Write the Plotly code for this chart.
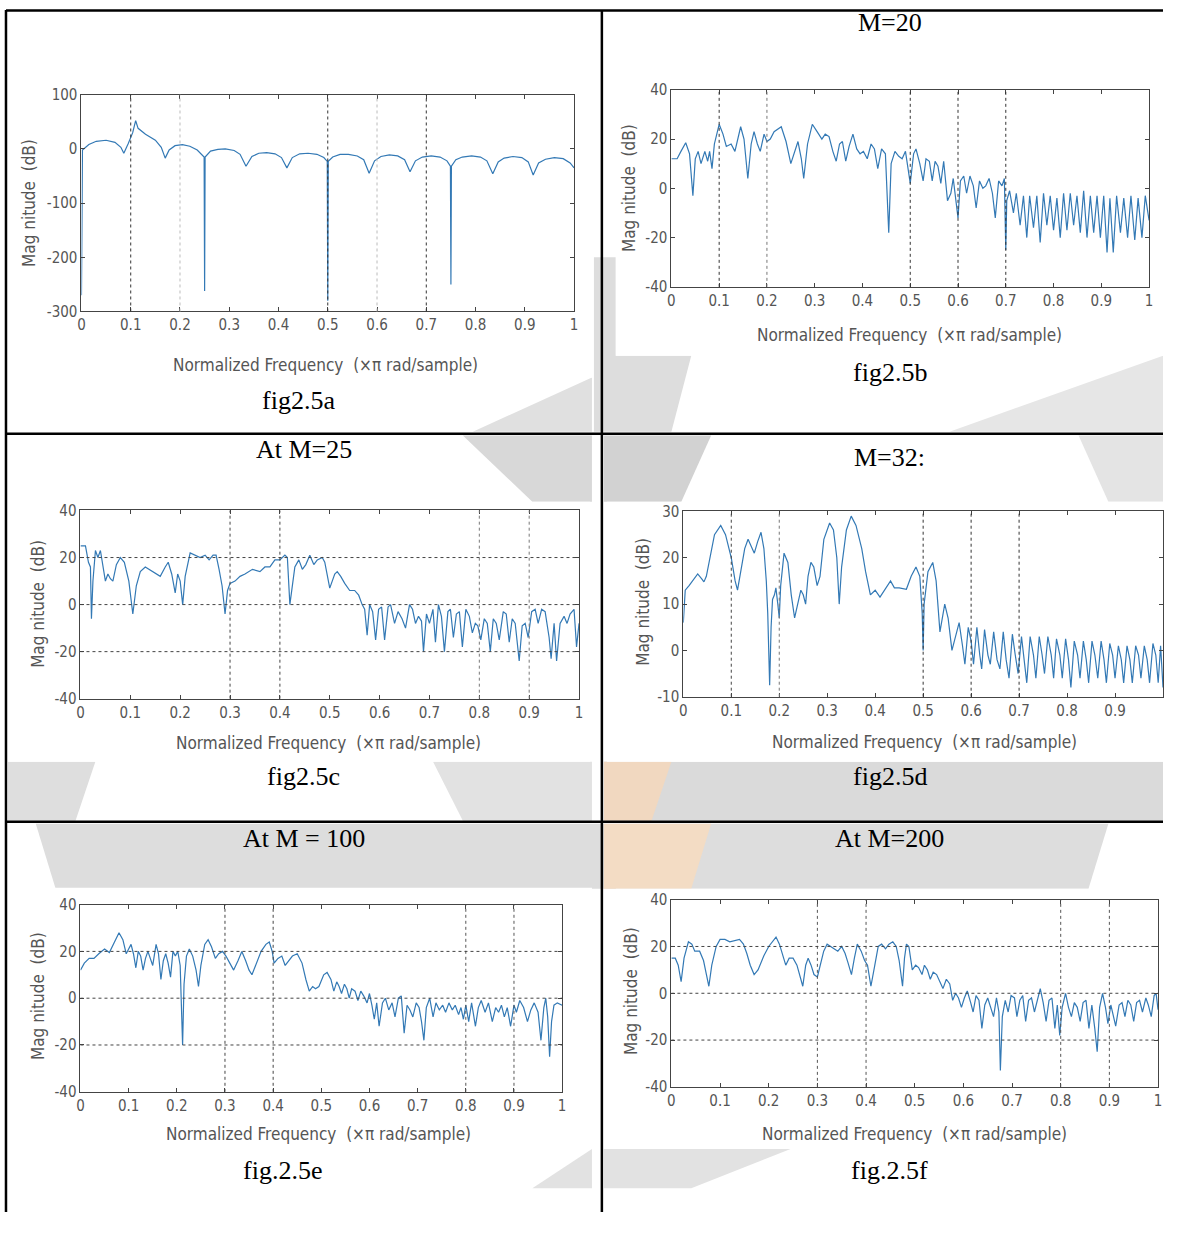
import plotly.graph_objects as go

W, H = 1183, 1237          # target page size
OFF = 8                     # default page margin around the plot div
FW, FH = W - 2 * OFF, H - 2 * OFF

# ---------------- data ----------------
freq_a = [0, 0.002, 0.015, 0.03, 0.05, 0.068, 0.08, 0.086, 0.095, 0.104, 0.11, 0.115, 0.13, 0.15, 0.162, 0.17,
          0.178, 0.19, 0.205, 0.22, 0.235, 0.249, 0.25, 0.251, 0.262, 0.277, 0.292, 0.31, 0.322, 0.334, 0.346,
          0.36, 0.376, 0.393, 0.406, 0.417, 0.428, 0.443, 0.46, 0.478, 0.492, 0.499, 0.5, 0.501, 0.51, 0.525,
          0.542, 0.56, 0.573, 0.584, 0.595, 0.608, 0.625, 0.642, 0.656, 0.667, 0.678, 0.692, 0.71, 0.728, 0.742,
          0.749, 0.75, 0.751, 0.76, 0.773, 0.792, 0.81, 0.823, 0.835, 0.846, 0.858, 0.876, 0.894, 0.907, 0.917,
          0.928, 0.942, 0.96, 0.978, 0.992, 1.0]
mag_a = [-270, -2, 8, 14, 16, 12, 3, -8, 10, 30, 52, 38, 27, 16, 3, -17,
         -2, 6, 8, 5, -2, -15, -262, -15, -4, -1, 0, -3, -10, -32, -14,
         -8, -7, -9, -16, -35, -16, -9, -8, -10, -16, -23, -280, -23, -15, -10,
         -10, -13, -20, -45, -22, -14, -11, -13, -20, -42, -22, -15, -13, -15, -22,
         -32, -250, -32, -20, -15, -13, -15, -22, -46, -24, -17, -14, -16, -24, -48,
         -26, -19, -16, -18, -26, -35]

freq_b = [0, 0.012, 0.02, 0.03, 0.038, 0.045, 0.05, 0.056, 0.062, 0.07, 0.076, 0.08, 0.085, 0.09, 0.1, 0.108,
          0.115, 0.125, 0.133, 0.145, 0.152, 0.16, 0.167, 0.173, 0.18, 0.186, 0.194, 0.2, 0.207, 0.215, 0.23,
          0.24, 0.25, 0.258, 0.265, 0.272, 0.277, 0.285, 0.295, 0.305, 0.315, 0.322, 0.33, 0.338, 0.345, 0.352,
          0.358, 0.365, 0.372, 0.38, 0.388, 0.395, 0.402, 0.41, 0.418, 0.425, 0.432, 0.44, 0.448, 0.455, 0.46,
          0.468, 0.476, 0.483, 0.49, 0.5, 0.507, 0.512, 0.52, 0.527, 0.533, 0.54, 0.546, 0.552, 0.558, 0.564,
          0.57, 0.578, 0.585, 0.59, 0.598, 0.6, 0.605, 0.612, 0.618, 0.625, 0.632, 0.638, 0.645, 0.652, 0.658,
          0.665, 0.672, 0.678, 0.685, 0.692, 0.697, 0.7, 0.702, 0.708, 0.716, 0.722, 0.73, 0.737, 0.744, 0.75,
          0.758, 0.765, 0.772, 0.779, 0.786, 0.793, 0.8, 0.807, 0.814, 0.821, 0.828, 0.835, 0.842, 0.849, 0.856,
          0.863, 0.87, 0.877, 0.884, 0.891, 0.898, 0.905, 0.912, 0.918, 0.925, 0.932, 0.94, 0.947, 0.955, 0.962,
          0.97, 0.977, 0.985, 0.992, 1.0]
mag_b = [12, 12, 15, 18.5, 14, -3, 12, 15, 10, 15, 11, 15, 8, 18, 26, 22,
         17, 18, 15, 25, 20, 4, 18, 23, 18, 15, 22, 19, 20, 23, 25,
         19, 10, 15, 19, 12, 4, 18, 26, 23, 20, 22, 21, 15, 11, 18,
         19, 11, 17, 22, 16, 14, 15, 12, 18, 16, 8, 16, 14, -18, 10,
         15, 13, 12, 15, 2, 14, 16, 10, 3, 12, 11, 3, 11, 9, 2,
         11, -5, -2, 4, -8, -12, 3, 5, -2, 5, 1, -8, 3, 0, 1,
         4, -2, -12, 3, 1, 4, -25, -5, -1, -10, -2, -15, -3, -20, -3,
         -16, -3, -22, -2, -15, -3, -17, -4, -20, -2, -17, -2, -15, -3, -18,
         -1, -20, -3, -18, -3, -20, -3, -26, -4, -26, -3, -18, -4, -20, -3,
         -21, -4, -20, -3, -13]

freq_c = [0, 0.01, 0.016, 0.02, 0.022, 0.025, 0.03, 0.035, 0.04, 0.045, 0.05, 0.055, 0.06, 0.065, 0.072, 0.08,
          0.088, 0.097, 0.105, 0.112, 0.12, 0.13, 0.145, 0.16, 0.17, 0.176, 0.183, 0.19, 0.195, 0.2, 0.205,
          0.21, 0.22, 0.23, 0.24, 0.25, 0.258, 0.266, 0.272, 0.278, 0.284, 0.29, 0.295, 0.3, 0.31, 0.32, 0.33,
          0.345, 0.36, 0.37, 0.38, 0.39, 0.4, 0.41, 0.415, 0.42, 0.43, 0.438, 0.445, 0.452, 0.46, 0.468, 0.475,
          0.485, 0.49, 0.5, 0.51, 0.515, 0.522, 0.53, 0.54, 0.55, 0.558, 0.565, 0.57, 0.575, 0.58, 0.586,
          0.592, 0.598, 0.604, 0.61, 0.617, 0.622, 0.63, 0.637, 0.645, 0.652, 0.66, 0.666, 0.672, 0.678, 0.684,
          0.688, 0.694, 0.7, 0.707, 0.712, 0.718, 0.724, 0.73, 0.737, 0.742, 0.748, 0.754, 0.76, 0.766, 0.773,
          0.78, 0.786, 0.792, 0.797, 0.803, 0.81, 0.816, 0.822, 0.828, 0.834, 0.84, 0.848, 0.854, 0.86, 0.866,
          0.872, 0.88, 0.886, 0.892, 0.898, 0.905, 0.912, 0.918, 0.925, 0.932, 0.94, 0.944, 0.95, 0.955, 0.962,
          0.97, 0.976, 0.982, 0.99, 0.995, 1.0]
mag_c = [25, 25, 18, 16, -6, 10, 23, 20, 23, 17, 10, 13, 11, 10, 17, 20,
         18, 10, -4, 8, 14, 16, 14, 12, 16, 18, 13, 5, 13, 10, 0,
         12, 22, 21, 20, 21, 19, 21, 21, 15, 8, -4, 6, 9, 10, 12, 13,
         15, 14, 16, 16, 19, 19, 21, 20, 0, 16, 19, 15, 17, 21, 17, 19,
         20, 18, 7, 13, 14, 12, 9, 6, 6, 4, 0, -2, -13, 0, -3,
         -15, -2, -1, -15, -1, 0, -8, -3, -6, -10, 0, -2, -8, -5, -7,
         -20, -4, -8, -2, -16, 0, -5, -20, -3, -2, -14, -4, -3, -18, -2,
         -5, -12, -8, -9, -15, -6, -8, -20, -6, -8, -15, -3, -4, -16, -6,
         -8, -24, -9, -8, -14, -3, -2, -8, -2, -3, -14, -23, -8, -24, -8,
         -5, -8, -4, -2, -18, -8]

freq_d = [0, 0.004, 0.012, 0.022, 0.03, 0.038, 0.043, 0.048, 0.055, 0.065, 0.078, 0.088, 0.1, 0.108, 0.113,
          0.12, 0.128, 0.135, 0.142, 0.148, 0.155, 0.162, 0.168, 0.173, 0.176, 0.18, 0.183, 0.186, 0.19, 0.193,
          0.197, 0.2, 0.203, 0.21, 0.218, 0.225, 0.232, 0.238, 0.245, 0.25, 0.255, 0.26, 0.266, 0.272, 0.279,
          0.285, 0.293, 0.305, 0.313, 0.32, 0.325, 0.33, 0.34, 0.35, 0.36, 0.372, 0.38, 0.39, 0.4, 0.41, 0.42,
          0.432, 0.44, 0.45, 0.465, 0.475, 0.485, 0.493, 0.498, 0.5, 0.502, 0.51, 0.52, 0.527, 0.535, 0.545,
          0.552, 0.56, 0.565, 0.575, 0.582, 0.587, 0.594, 0.6, 0.605, 0.612, 0.618, 0.622, 0.628, 0.635, 0.64,
          0.647, 0.654, 0.66, 0.667, 0.673, 0.679, 0.686, 0.692, 0.698, 0.705, 0.711, 0.716, 0.723, 0.73, 0.735,
          0.742, 0.748, 0.753, 0.76, 0.767, 0.772, 0.778, 0.785, 0.79, 0.797, 0.803, 0.808, 0.815, 0.822, 0.827,
          0.834, 0.84, 0.845, 0.852, 0.858, 0.864, 0.871, 0.877, 0.882, 0.889, 0.895, 0.9, 0.907, 0.913, 0.918,
          0.925, 0.931, 0.936, 0.943, 0.949, 0.954, 0.961, 0.967, 0.972, 0.979, 0.985, 0.99, 0.995, 1.0]
mag_d = [6, 13, 14, 15.5, 16.5, 15.5, 14.8, 16, 20, 25, 27, 25, 20, 15, 13,
         17, 22, 24, 22.5, 21, 23.5, 25.5, 22, 15, 8, -7.5, 5, 11, 12, 13.5,
         10, 7, 14, 21, 19, 12, 7, 10, 13, 12, 10, 16, 19, 18, 14,
         16, 24, 27.5, 26, 20, 10, 18, 26, 29, 27, 22, 17, 12, 13, 11.5, 13,
         15, 13.5, 13.5, 13.2, 16, 18, 16, 8, 0, 10, 17, 19, 15, 4, 10,
         7, 0, 2, 6, 1, -3, 5, 2, -3, 5, -1, -4, 4.5, -1, -3,
         4, -2, -4, 4, -2, -6, 3.5, -1, -5, 3, -2, -7, 3, -1, -6,
         3, -1, -5, 3, -1, -6, 2.5, -1, -6, 2.5, -2, -8, 2, -1, -6,
         2, -2, -7, 2, -1, -6, 2, -2, -7, 1.5, -1, -6, 1, -2, -7,
         1, -2, -7, 1, -1, -6, 1, -2, -7, 1.5, -1, -7, 1, -8]

freq_e = [0, 0.008, 0.018, 0.028, 0.038, 0.05, 0.06, 0.07, 0.08, 0.088, 0.095, 0.1, 0.105, 0.11, 0.115, 0.12,
          0.125, 0.13, 0.135, 0.14, 0.145, 0.15, 0.157, 0.162, 0.167, 0.172, 0.177, 0.182, 0.187, 0.192, 0.197,
          0.202, 0.207, 0.21, 0.212, 0.215, 0.22, 0.226, 0.233, 0.24, 0.245, 0.25, 0.258, 0.265, 0.272, 0.28,
          0.287, 0.295, 0.302, 0.31, 0.318, 0.327, 0.335, 0.343, 0.35, 0.356, 0.365, 0.375, 0.385, 0.392, 0.398,
          0.402, 0.41, 0.418, 0.425, 0.433, 0.44, 0.45, 0.46, 0.468, 0.475, 0.482, 0.488, 0.495, 0.505, 0.512,
          0.52, 0.526, 0.532, 0.537, 0.542, 0.548, 0.553, 0.558, 0.563, 0.57, 0.576, 0.582, 0.588, 0.595, 0.6,
          0.605, 0.61, 0.615, 0.62, 0.627, 0.633, 0.64, 0.647, 0.653, 0.66, 0.666, 0.672, 0.678, 0.684, 0.69,
          0.697, 0.703, 0.708, 0.713, 0.718, 0.725, 0.732, 0.738, 0.745, 0.752, 0.758, 0.765, 0.772, 0.778, 0.785,
          0.79, 0.795, 0.8, 0.806, 0.812, 0.82, 0.826, 0.832, 0.84, 0.847, 0.855, 0.862, 0.868, 0.874, 0.88,
          0.886, 0.893, 0.9, 0.905, 0.912, 0.92, 0.928, 0.935, 0.942, 0.95, 0.956, 0.962, 0.966, 0.97, 0.974,
          0.978, 0.983, 0.99, 1.0]
mag_e = [12, 15, 17, 17, 19, 21, 19.5, 24, 28, 25, 19, 21, 23, 19, 13, 20,
         18, 12, 17, 20, 17, 14, 23, 19, 8, 16, 19, 15, 9, 20, 18,
         20, 14, -6, -20, 6, 18, 21, 18, 12, 5, 14, 23, 25, 22, 17,
         19, 20, 18, 15, 12, 16, 20, 16, 12, 10, 15, 20, 23, 24, 20,
         15, 17, 18, 14, 16, 18, 19, 15, 8, 3, 5, 4, 5, 10, 11,
         8, 3, 7, 5, 2, 6, 4, 0, 4, 3, -1, 3, 1, -2, 2,
         -3, -9, -2, -12, -2, 0, -5, -2, -8, 0, 1, -15, -3, -5, -8,
         -2, -4, -10, -18, -4, 0, -8, -2, -5, -3, -6, -2, -5, -3, -7,
         -4, -9, -3, -10, -2, -12, -4, -1, -6, -2, -10, -4, -6, -3, -8,
         -4, -12, -3, -6, -1, -4, -10, -5, -2, -6, -18, -4, 0, -8, -25,
         -10, -3, -2, -3]

freq_f = [0, 0.008, 0.014, 0.02, 0.026, 0.035, 0.042, 0.048, 0.058, 0.066, 0.072, 0.077, 0.083, 0.092, 0.1, 0.11,
          0.12, 0.13, 0.14, 0.148, 0.155, 0.162, 0.17, 0.178, 0.19, 0.2, 0.21, 0.215, 0.222, 0.23, 0.235,
          0.242, 0.25, 0.258, 0.265, 0.27, 0.276, 0.281, 0.287, 0.293, 0.3, 0.306, 0.313, 0.32, 0.328, 0.335,
          0.342, 0.35, 0.357, 0.363, 0.37, 0.376, 0.382, 0.39, 0.397, 0.403, 0.41, 0.418, 0.425, 0.432, 0.44,
          0.447, 0.455, 0.462, 0.468, 0.475, 0.479, 0.483, 0.488, 0.495, 0.502, 0.508, 0.515, 0.52, 0.526, 0.532,
          0.538, 0.545, 0.552, 0.558, 0.565, 0.572, 0.578, 0.584, 0.59, 0.596, 0.602, 0.608, 0.615, 0.62, 0.626,
          0.632, 0.638, 0.644, 0.65, 0.656, 0.662, 0.668, 0.673, 0.676, 0.68, 0.686, 0.692, 0.698, 0.705, 0.71,
          0.716, 0.722, 0.728, 0.734, 0.74, 0.746, 0.752, 0.758, 0.764, 0.77, 0.776, 0.782, 0.788, 0.793, 0.798,
          0.803, 0.81, 0.816, 0.822, 0.828, 0.834, 0.84, 0.846, 0.852, 0.858, 0.864, 0.87, 0.875, 0.88, 0.886,
          0.892, 0.897, 0.903, 0.908, 0.913, 0.92, 0.926, 0.932, 0.938, 0.944, 0.95, 0.956, 0.962, 0.968, 0.975,
          0.98, 0.986, 0.992, 0.996, 1.0]
mag_f = [15, 15, 12, 5, 15, 22, 21, 18, 18, 14, 8, 3, 12, 20, 23, 23,
         22, 22.5, 23, 21, 17, 12, 8, 10, 16, 20, 23, 24, 21, 15, 12,
         15, 15, 12, 6, 3, 12, 15, 12, 8, 7, 12, 18, 21, 20, 19,
         18, 20, 17, 13, 8, 15, 21, 18, 14, 12, 3, 12, 20, 21, 19,
         21, 22, 20, 14, 3, 15, 21, 20, 10, 12, 11, 8, 12, 10, 6,
         9, 8, 5, 2, 6, 4, -3, 0, -2, -6, -2, 1, -4, -8, -1,
         -3, -15, -5, -2, -6, -10, -2, -8, -33, -10, -3, -8, -1, -2, -10,
         -3, -1, -12, -3, -2, -8, -3, 2, -4, -12, -3, -2, -15, -5, -18,
         -6, 0, -6, -10, -4, -6, -12, -4, -3, -15, -5, -15, -25, -6, 0,
         -6, -13, -5, -9, -14, -5, -4, -10, -3, -5, -12, -4, -3, -8, -2,
         -5, -10, -1, 0, -7]

x_ticks = [0, 0.1, 0.2, 0.3, 0.4, 0.5, 0.6, 0.7, 0.8, 0.9, 1]
x_tick_labels = ["0", "0.1", "0.2", "0.3", "0.4", "0.5", "0.6", "0.7", "0.8", "0.9", "1"]

titles = ["", "M=20", "At M=25", "M=32:", "At M = 100", "At M=200"]
captions = ["fig2.5a", "fig2.5b", "fig2.5c", "fig2.5d", "fig.2.5e", "fig.2.5f"]
x_label = "Normalized Frequency  (×π rad/sample)"
y_label = "Mag nitude  (dB)"

# ---------------- layout geometry (page pixels) ----------------
panels = [
    dict(f=freq_a, m=mag_a, box=(86, 582, 95, 315), yr=(-300, 100), dy=100, img=(10, 600, 80, 382),
         vgrid=[(0.1, "#333"), (0.2, "#bbb"), (0.5, "#333"), (0.6, "#bbb"), (0.7, "#333")], hgrid=[],
         title=None, cap=(305, 405), xl=(332, 369), yl=(33, 205)),
    dict(f=freq_b, m=mag_b, box=(680, 1161, 90, 290), yr=(-40, 40), dy=20, img=(624, 1183, 75, 360),
         vgrid=[(0.1, "#333"), (0.2, "#777"), (0.5, "#333"), (0.6, "#333"), (0.7, "#333")], hgrid=[],
         title=(900, 22), cap=(900, 377), xl=(920, 339), yl=(638, 190)),
    dict(f=freq_c, m=mag_c, box=(85, 587, 517, 708), yr=(-40, 40), dy=20, img=(10, 598, 508, 772),
         vgrid=[(0.3, "#444"), (0.4, "#444"), (0.8, "#777"), (0.9, "#777")], hgrid=[20, 0, -20],
         title=(310, 455), cap=(310, 787), xl=(335, 753), yl=(42, 612)),
    dict(f=freq_d, m=mag_d, box=(692, 1175, 518, 706), yr=(-10, 30), dy=10, img=(615, 1183, 508, 772),
         vgrid=[(0.1, "#444"), (0.2, "#777"), (0.5, "#333"), (0.6, "#333"), (0.7, "#333")], hgrid=[],
         title=(900, 463), cap=(900, 787), xl=(935, 752), yl=(652, 610)),
    dict(f=freq_e, m=mag_e, box=(85, 570, 917, 1107), yr=(-40, 40), dy=20, img=(10, 600, 900, 1165),
         vgrid=[(0.3, "#444"), (0.4, "#444"), (0.8, "#555"), (0.9, "#555")], hgrid=[20, 0, -20],
         title=(310, 850), cap=(288, 1187), xl=(325, 1150), yl=(42, 1010)),
    dict(f=freq_f, m=mag_f, box=(680, 1170, 912, 1102), yr=(-40, 40), dy=20, img=(624, 1183, 901, 1165),
         vgrid=[(0.3, "#555"), (0.4, "#555"), (0.8, "#555"), (0.9, "#555")], hgrid=[20, 0, -20],
         title=(900, 850), cap=(900, 1187), xl=(925, 1150), yl=(640, 1005)),
]

# faint watermark patches (page pixels, polygons)
watermark = [
    ("#dddddd", [(40, 835), (1120, 835), (1100, 901), (60, 901)]),
    ("#f3dcc4", [(612, 835), (720, 835), (700, 901), (612, 901)]),
    ("#dadada", [(612, 772), (1183, 772), (1183, 832), (612, 832)]),
    ("#f1d8c0", [(612, 772), (680, 772), (660, 832), (612, 832)]),
    ("#dedede", [(12, 772), (100, 772), (80, 832), (12, 832)]),
    ("#e2e2e2", [(440, 772), (600, 772), (600, 832), (470, 832)]),
    ("#d8d8d8", [(470, 441), (600, 441), (600, 508), (540, 508)]),
    ("#d2d2d2", [(612, 441), (720, 441), (690, 508), (612, 508)]),
    ("#e4e4e4", [(1090, 441), (1183, 441), (1183, 508), (1120, 508)]),
    ("#e0e0e0", [(480, 437), (600, 382), (600, 437)]),
    ("#dddddd", [(602, 260), (624, 260), (624, 360), (700, 360), (680, 437), (602, 437)]),
    ("#e6e6e6", [(960, 437), (1183, 360), (1183, 437)]),
    ("#e2e2e2", [(540, 1205), (600, 1165), (600, 1205)]),
    ("#e2e2e2", [(612, 1165), (800, 1165), (700, 1205), (612, 1205)]),
]


def px(x):
    return min(max((x - OFF) / FW, 0), 1)


def py(y):
    return min(max(1 - (y - OFF) / FH, 0), 1)


fig = go.Figure()
shapes = []
annotations = []
narrow = "Liberation Sans Narrow, DejaVu Sans Condensed, Arial Narrow, sans-serif"
tick_font = dict(family=narrow, size=15, color="#555")
lab_font = dict(family=narrow, size=17, color="#555")
serif = dict(family="Liberation Serif, Times New Roman, serif", size=26, color="#000")

for col, pts in watermark:
    path = "M " + " L ".join(f"{px(x):.5f},{py(y):.5f}" for x, y in pts) + " Z"
    shapes.append(dict(type="path", xref="paper", yref="paper", path=path, layer="below",
                       fillcolor=col, line=dict(width=0)))

layout_axes = {}
for i, p in enumerate(panels):
    n = i + 1
    xa = "x" if n == 1 else f"x{n}"
    ya = "y" if n == 1 else f"y{n}"
    x0, x1, y0, y1 = p["box"]
    fig.add_trace(go.Scatter(x=p["f"], y=p["m"], mode="lines", xaxis=xa, yaxis=ya,
                             line=dict(color="#3379b5", width=1.2), showlegend=False, hoverinfo="skip"))
    lo, hi = p["yr"]
    yt = list(range(lo, hi + 1, p["dy"]))
    layout_axes[f"xaxis{'' if n == 1 else n}"] = dict(
        domain=[px(x0), px(x1)], anchor=ya, range=[0, 1], tickvals=x_ticks, ticktext=x_tick_labels,
        ticks="inside", ticklen=4, tickcolor="#444", showline=True, linecolor="#444", linewidth=1,
        mirror="ticks", showgrid=False, zeroline=False, tickfont=tick_font, fixedrange=True)
    layout_axes[f"yaxis{'' if n == 1 else n}"] = dict(
        domain=[py(y1), py(y0)], anchor=xa, range=[lo, hi], tickvals=yt, ticktext=[str(v) for v in yt],
        ticks="inside", ticklen=4, tickcolor="#444", showline=True, linecolor="#444", linewidth=1,
        mirror="ticks", showgrid=False, zeroline=False, tickfont=tick_font, fixedrange=True)
    ix0, ix1, iy0, iy1 = p["img"]
    shapes.append(dict(type="rect", xref="paper", yref="paper", layer="below",
                       x0=px(ix0), x1=px(ix1), y0=py(iy1), y1=py(iy0),
                       fillcolor="white", line=dict(width=0)))
    for gx, col in p["vgrid"]:
        shapes.append(dict(type="line", xref=xa, yref=f"{ya} domain", x0=gx, x1=gx, y0=0, y1=1,
                           line=dict(color=col, width=1, dash="dot")))
    for gy in p["hgrid"]:
        shapes.append(dict(type="line", xref=f"{xa} domain", yref=ya, x0=0, x1=1, y0=gy, y1=gy,
                           line=dict(color="#444", width=1, dash="dot")))
    if p["title"]:
        tx, ty = p["title"]
        annotations.append(dict(text=titles[i], x=px(tx), y=py(ty), xref="paper", yref="paper",
                                showarrow=False, font=serif, xanchor="center", yanchor="middle"))
    cx, cy = p["cap"]
    annotations.append(dict(text=captions[i], x=px(cx), y=py(cy), xref="paper", yref="paper",
                            showarrow=False, font=serif, xanchor="center", yanchor="middle"))
    lx, ly = p["xl"]
    annotations.append(dict(text=x_label, x=px(lx), y=py(ly), xref="paper", yref="paper",
                            showarrow=False, font=lab_font, xanchor="center", yanchor="middle"))
    vx, vy = p["yl"]
    annotations.append(dict(text=y_label, x=px(vx), y=py(vy), xref="paper", yref="paper", textangle=-90,
                            showarrow=False, font=lab_font, xanchor="center", yanchor="middle"))

# table borders
border = dict(color="black", width=2.5)
table_lines = [(10, 9.5, W, 9.5), (10, 9, 10, H), (610, 9, 610, H), (10, 439, W, 439), (10, 833, W, 833)]
for a, b, c, d in table_lines:
    shapes.append(dict(type="line", xref="paper", yref="paper", x0=px(a), y0=py(b), x1=px(c),
                       y1=py(d), line=border))

fig.update_layout(width=FW, height=FH, margin=dict(l=0, r=0, t=0, b=0), paper_bgcolor="white",
                  plot_bgcolor="white", shapes=shapes, annotations=annotations, showlegend=False,
                  **layout_axes)
fig.write_html("out.html")
